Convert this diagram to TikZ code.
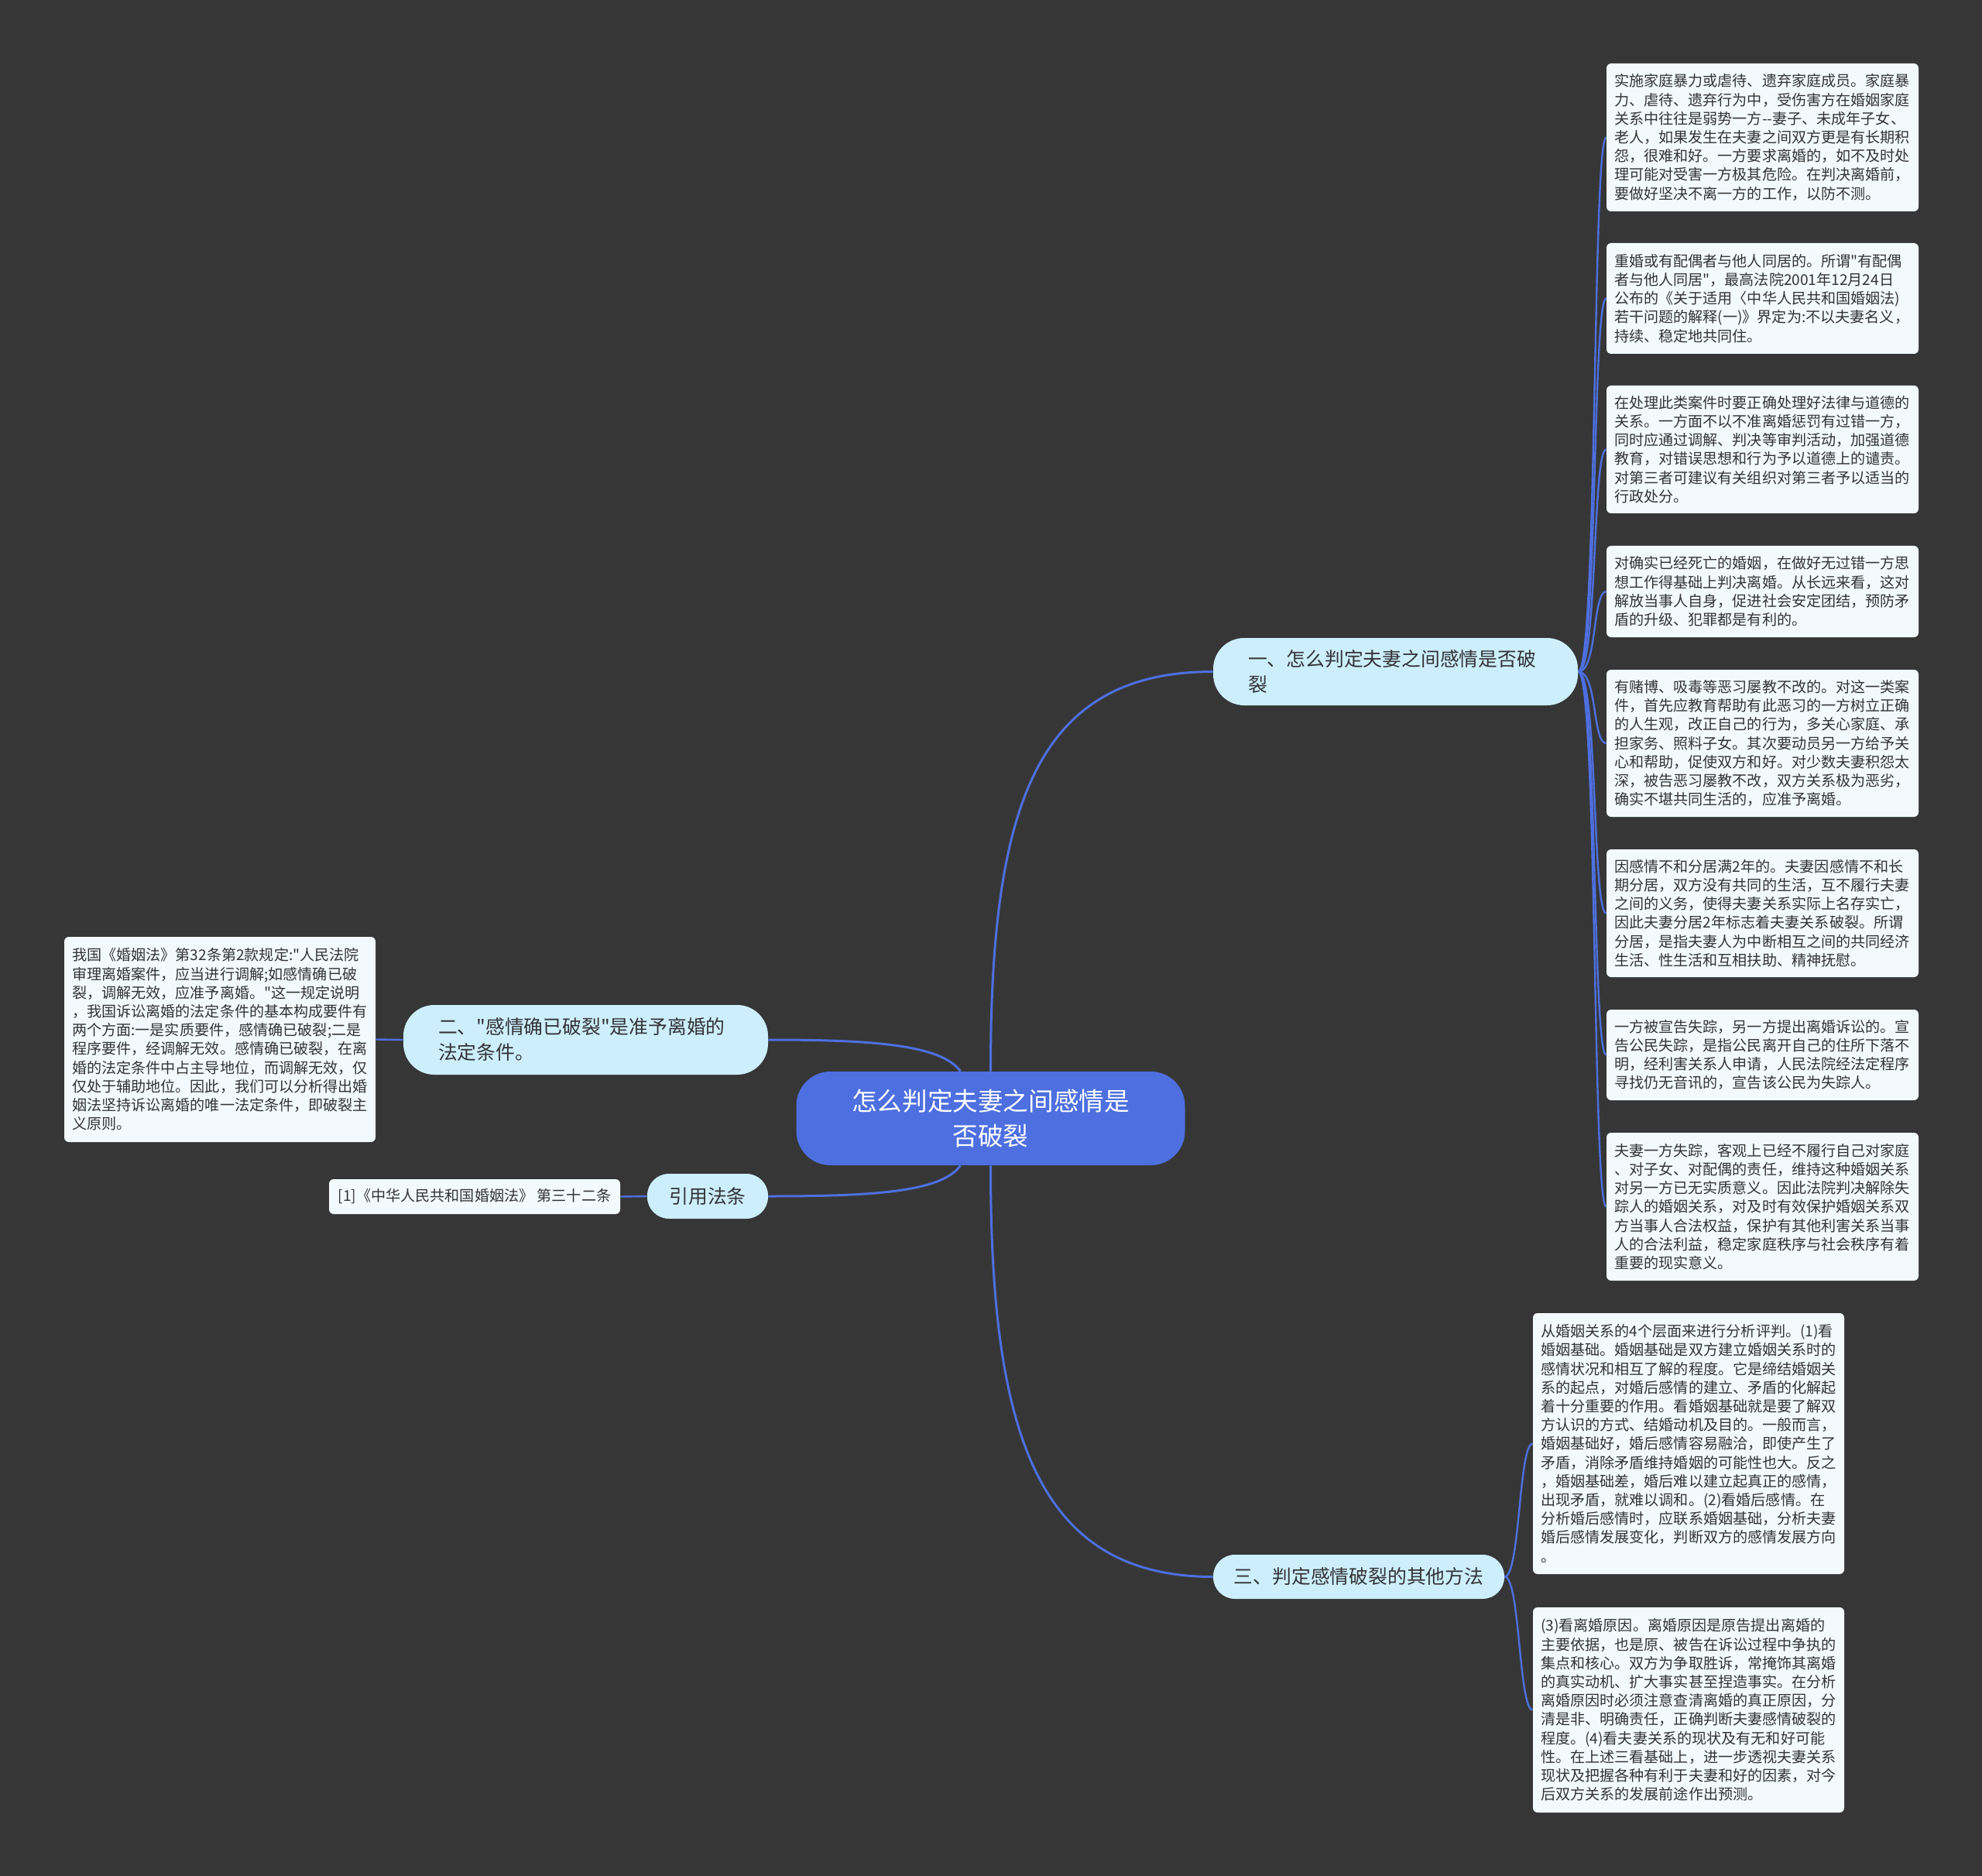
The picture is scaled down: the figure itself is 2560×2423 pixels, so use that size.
\documentclass[tikz,border=0pt]{standalone}
\usepackage{fontspec}
\setmainfont{Noto Sans CJK SC}[Ligatures=TeXOff]
\usetikzlibrary{calc}
\definecolor{bgc}{HTML}{363636}
\definecolor{leafc}{HTML}{F2FAFD}
\definecolor{brc}{HTML}{CDEFFD}
\definecolor{rootc}{HTML}{4D6FE0}
\definecolor{linec}{HTML}{4D6FE0}
\definecolor{txtc}{HTML}{333333}
\pgfdeclarelayer{back}
\pgfdeclarelayer{bg}
\pgfsetlayers{back,bg,main}
\tikzset{
 leaf/.style={fill=leafc, rounded corners=3pt, inner xsep=5pt, inner ysep=0pt, align=left, text=txtc, font=\fontsize{9.55pt}{12.1pt}\selectfont},
 branch/.style={fill=brc, text=txtc, font=\fontsize{12.4pt}{16.5pt}\selectfont, inner ysep=0pt},
 conn/.style={draw=linec, line width=1.5pt},
 lconn/.style={draw=linec, line width=1.2pt},
}
\begin{document}
\begin{tikzpicture}[x=0.5pt,y=-0.5pt]
\begin{pgfonlayer}{back}
\fill[bgc] (0,0) rectangle (2560,2423);
\end{pgfonlayer}
\useasboundingbox (0,0) rectangle (2560,2423);

% root
\node[fill=rootc, rounded corners=22pt, minimum width=251pt, minimum height=60.5pt, text=white, align=center, font=\fontsize{16.3pt}{22.5pt}\selectfont, inner sep=0pt] (root) at (1279.5,1444.5) {怎么判定夫妻之间感情是\\否破裂};

% branches
\node[branch, rounded corners=20pt, minimum height=43.5pt, text width=190.5pt, inner xsep=22.5pt, align=left] (b1) at (1802.5,867.5) {一、怎么判定夫妻之间感情是否破\\裂};
\node[branch, rounded corners=20pt, minimum height=45pt, text width=190.5pt, inner xsep=22.5pt, align=left] (b2) at (756.5,1343) {二、"感情确已破裂"是准予离婚的\\法定条件。};
\node[branch, rounded corners=14pt, minimum width=78pt, minimum height=29pt, inner xsep=0pt] (b3) at (914,1545) {引用法条};
\node[branch, rounded corners=14pt, minimum width=188pt, minimum height=28.5pt, inner xsep=0pt] (b4) at (1755,2036.5) {三、判定感情破裂的其他方法};

% right leaves
\node[leaf, text width=191.5pt, minimum height=95.5pt] (l1) at (2276.5,177.5) {实施家庭暴力或虐待、遗弃家庭成员。家庭暴\\力、虐待、遗弃行为中，受伤害方在婚姻家庭\\关系中往往是弱势一方--妻子、未成年子女、\\老人，如果发生在夫妻之间双方更是有长期积\\怨，很难和好。一方要求离婚的，如不及时处\\理可能对受害一方极其危险。在判决离婚前，\\要做好坚决不离一方的工作，以防不测。};
\node[leaf, text width=191.5pt, minimum height=71.5pt] (l2) at (2276.5,385.5) {重婚或有配偶者与他人同居的。所谓"有配偶\\者与他人同居"，最高法院2001年12月24日\\公布的《关于适用〈中华人民共和国婚姻法)\\若干问题的解释(一)》界定为:不以夫妻名义，\\持续、稳定地共同住。};
\node[leaf, text width=191.5pt, minimum height=82.5pt] (l3) at (2276.5,580.5) {在处理此类案件时要正确处理好法律与道德的\\关系。一方面不以不准离婚惩罚有过错一方，\\同时应通过调解、判决等审判活动，加强道德\\教育，对错误思想和行为予以道德上的谴责。\\对第三者可建议有关组织对第三者予以适当的\\行政处分。};
\node[leaf, text width=191.5pt, minimum height=59pt] (l4) at (2276.5,764) {对确实已经死亡的婚姻，在做好无过错一方思\\想工作得基础上判决离婚。从长远来看，这对\\解放当事人自身，促进社会安定团结，预防矛\\盾的升级、犯罪都是有利的。};
\node[leaf, text width=191.5pt, minimum height=95pt] (l5) at (2276.5,960) {有赌博、吸毒等恶习屡教不改的。对这一类案\\件，首先应教育帮助有此恶习的一方树立正确\\的人生观，改正自己的行为，多关心家庭、承\\担家务、照料子女。其次要动员另一方给予关\\心和帮助，促使双方和好。对少数夫妻积怨太\\深，被告恶习屡教不改，双方关系极为恶劣，\\确实不堪共同生活的，应准予离婚。};
\node[leaf, text width=191.5pt, minimum height=82.5pt] (l6) at (2276.5,1179.5) {因感情不和分居满2年的。夫妻因感情不和长\\期分居，双方没有共同的生活，互不履行夫妻\\之间的义务，使得夫妻关系实际上名存实亡，\\因此夫妻分居2年标志着夫妻关系破裂。所谓\\分居，是指夫妻人为中断相互之间的共同经济\\生活、性生活和互相扶助、精神抚慰。};
\node[leaf, text width=191.5pt, minimum height=58.5pt] (l7) at (2276.5,1362.5) {一方被宣告失踪，另一方提出离婚诉讼的。宣\\告公民失踪，是指公民离开自己的住所下落不\\明，经利害关系人申请，人民法院经法定程序\\寻找仍无音讯的，宣告该公民为失踪人。};
\node[leaf, text width=191.5pt, minimum height=95.5pt] (l8) at (2276.5,1558.5) {夫妻一方失踪，客观上已经不履行自己对家庭\\、对子女、对配偶的责任，维持这种婚姻关系\\对另一方已无实质意义。因此法院判决解除失\\踪人的婚姻关系，对及时有效保护婚姻关系双\\方当事人合法权益，保护有其他利害关系当事\\人的合法利益，稳定家庭秩序与社会秩序有着\\重要的现实意义。};

% bottom leaves
\node[leaf, text width=191pt, minimum height=168.5pt] (l9) at (2181,1864.5) {从婚姻关系的4个层面来进行分析评判。(1)看\\婚姻基础。婚姻基础是双方建立婚姻关系时的\\感情状况和相互了解的程度。它是缔结婚姻关\\系的起点，对婚后感情的建立、矛盾的化解起\\着十分重要的作用。看婚姻基础就是要了解双\\方认识的方式、结婚动机及目的。一般而言，\\婚姻基础好，婚后感情容易融洽，即使产生了\\矛盾，消除矛盾维持婚姻的可能性也大。反之\\，婚姻基础差，婚后难以建立起真正的感情，\\出现矛盾，就难以调和。(2)看婚后感情。在\\分析婚后感情时，应联系婚姻基础，分析夫妻\\婚后感情发展变化，判断双方的感情发展方向\\。};
\node[leaf, text width=191pt, minimum height=132.5pt] (l10) at (2181,2208.5) {(3)看离婚原因。离婚原因是原告提出离婚的\\主要依据，也是原、被告在诉讼过程中争执的\\集点和核心。双方为争取胜诉，常掩饰其离婚\\的真实动机、扩大事实甚至捏造事实。在分析\\离婚原因时必须注意查清离婚的真正原因，分\\清是非、明确责任，正确判断夫妻感情破裂的\\程度。(4)看夫妻关系的现状及有无和好可能\\性。在上述三看基础上，进一步透视夫妻关系\\现状及把握各种有利于夫妻和好的因素，对今\\后双方关系的发展前途作出预测。};

% left leaves
\node[leaf, text width=191pt, minimum height=132.5pt] (ll) at (284,1342.5) {我国《婚姻法》第32条第2款规定:"人民法院\\审理离婚案件，应当进行调解;如感情确已破\\裂，调解无效，应准予离婚。"这一规定说明\\，我国诉讼离婚的法定条件的基本构成要件有\\两个方面:一是实质要件，感情确已破裂;二是\\程序要件，经调解无效。感情确已破裂，在离\\婚的法定条件中占主导地位，而调解无效，仅\\仅处于辅助地位。因此，我们可以分析得出婚\\姻法坚持诉讼离婚的唯一法定条件，即破裂主\\义原则。};
\node[leaf, minimum width=188pt, minimum height=22.5pt, align=center] (cite) at (613,1545.5) {[1]《中华人民共和国婚姻法》 第三十二条};

% connectors
\begin{pgfonlayer}{bg}
\draw[conn] (root.north) .. controls +(0,-340) and +(-230,0) .. (b1.west);
\draw[conn] (root.south) .. controls +(0,340) and +(-230,0) .. (b4.west);
\draw[conn] ($(root.north)+(-39,0)$) .. controls +(-25,-35) and +(130,0) .. (b2.east);
\draw[conn] ($(root.south)+(-39,0)$) .. controls +(-25,35) and +(130,0) .. (b3.east);
\foreach \l in {l1,l2,l3,l4,l5,l6,l7,l8}
  \draw[lconn] (b1.east) .. controls +(25,0) and +(-18,0) .. (\l.west);
\foreach \l in {l9,l10}
  \draw[lconn] (b4.east) .. controls +(20,0) and +(-18,0) .. (\l.west);
\draw[lconn] (b2.west) -- (ll.east);
\draw[lconn] (b3.west) -- (cite.east);
\end{pgfonlayer}
\end{tikzpicture}
\end{document}
